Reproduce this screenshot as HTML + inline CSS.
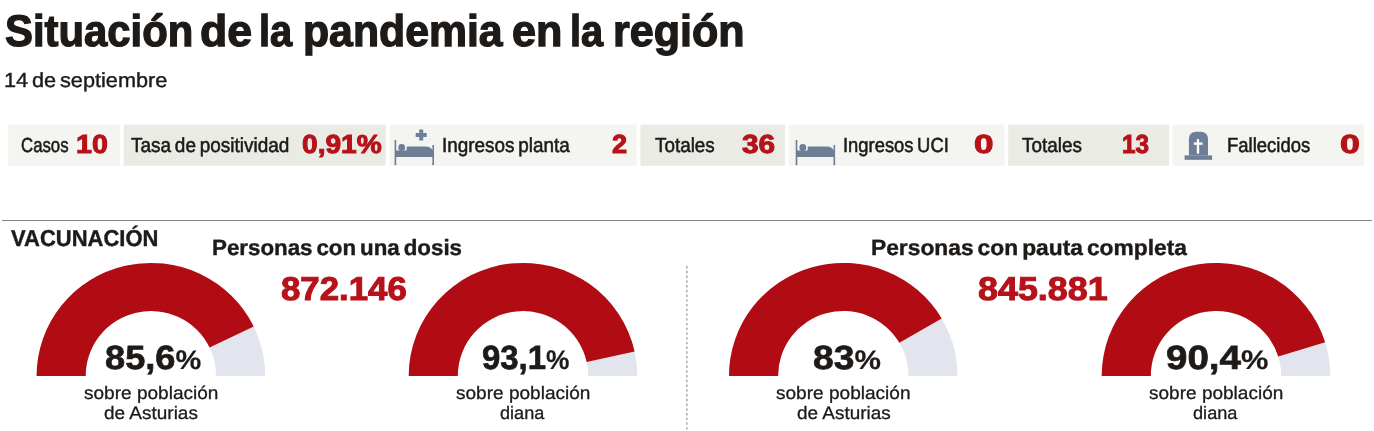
<!DOCTYPE html>
<html lang="es"><head><meta charset="utf-8"><title>Situación de la pandemia en la región</title>
<style>html,body{margin:0;padding:0;background:#fff}body{width:1374px;height:431px;position:relative;overflow:hidden;font-family:"Liberation Sans",sans-serif}
.t{position:absolute;white-space:nowrap;line-height:1;transform-origin:0 0;margin:0;text-rendering:geometricPrecision}
.b{position:absolute}
h1{margin:0;font:inherit}
svg{position:absolute;left:0;top:0}
</style></head><body>
<div class="b" style="left:2.3px;top:220px;width:1370px;height:1px;background:#858585"></div>
<svg width="1374" height="431" viewBox="0 0 1374 431">
<rect x="8.3" y="124.6" width="111.7" height="41.2" fill="#f4f4f0"/>
<rect x="123.7" y="124.6" width="262.0" height="41.2" fill="#ebebe5"/>
<rect x="389.8" y="124.6" width="246.9" height="41.2" fill="#f4f4f0"/>
<rect x="640.4" y="124.6" width="144.6" height="41.2" fill="#ebebe5"/>
<rect x="788.6" y="124.6" width="215.9" height="41.2" fill="#f4f4f0"/>
<rect x="1008.2" y="124.6" width="160.8" height="41.2" fill="#ebebe5"/>
<rect x="1172.5" y="124.6" width="191.8" height="41.2" fill="#f4f4f0"/>
<path fill="#e2e5ed" d="M36.60 375.90A114.3 113.0 0 0 1 265.20 375.90L216.10 375.90A65.2 64.9 0 0 0 85.70 375.90Z"/>
<path fill="#b10c14" d="M36.60 375.90A114.3 113.0 0 0 1 253.70 326.51L209.54 347.53A65.2 64.9 0 0 0 85.70 375.90Z"/>
<path fill="#e2e5ed" d="M408.70 375.90A114.3 113.0 0 0 1 637.30 375.90L588.20 375.90A65.2 64.9 0 0 0 457.80 375.90Z"/>
<path fill="#b10c14" d="M408.70 375.90A114.3 113.0 0 0 1 634.63 351.60L586.67 361.94A65.2 64.9 0 0 0 457.80 375.90Z"/>
<path fill="#e2e5ed" d="M729.00 375.90A114.3 113.0 0 0 1 957.60 375.90L908.50 375.90A65.2 64.9 0 0 0 778.10 375.90Z"/>
<path fill="#b10c14" d="M729.00 375.90A114.3 113.0 0 0 1 941.68 318.38L899.42 342.86A65.2 64.9 0 0 0 778.10 375.90Z"/>
<path fill="#e2e5ed" d="M1101.70 375.90A114.3 113.0 0 0 1 1330.30 375.90L1281.20 375.90A65.2 64.9 0 0 0 1150.80 375.90Z"/>
<path fill="#b10c14" d="M1101.70 375.90A114.3 113.0 0 0 1 1325.14 342.33L1278.26 356.62A65.2 64.9 0 0 0 1150.80 375.90Z"/>
<g id="bed1" fill="#6d7e96">
<rect x="394.6" y="140" width="1.6" height="24"/>
<rect x="432.4" y="145" width="1.6" height="19"/>
<circle cx="395.4" cy="164.2" r="1"/><circle cx="433.2" cy="164.2" r="1"/>
<rect x="395.4" y="150.4" width="37.8" height="6.6"/>
<circle cx="401.7" cy="147.5" r="3.4"/>
<path d="M406.6 151V147.6Q406.6 146.4 407.8 146.4H425.5Q431.6 146.6 433 151Z"/>
<path d="M419.2 129.4h4v3.5h3.5v4h-3.5v3.5h-4v-3.5h-3.5v-4h3.5z"/>
</g>
<g id="bed2" fill="#6d7e96" transform="translate(401.1 0)">
<rect x="394.6" y="140" width="1.6" height="24"/>
<rect x="432.4" y="145" width="1.6" height="19"/>
<circle cx="395.4" cy="164.2" r="1"/><circle cx="433.2" cy="164.2" r="1"/>
<rect x="395.4" y="150.4" width="37.8" height="6.6"/>
<circle cx="401.7" cy="147.5" r="3.4"/>
<path d="M406.6 151V147.6Q406.6 146.4 407.8 146.4H425.5Q431.6 146.6 433 151Z"/>
</g>
<g id="tomb">
<path fill="#6d7e96" d="M1188.9 155.6V139.3Q1188.9 131.8 1196.4 131.8H1200.5Q1208 131.8 1208 139.3V155.6Z"/>
<rect fill="#6d7e96" x="1184.6" y="155.4" width="27.5" height="4.4"/>
<rect fill="#fff" x="1196.8" y="139.1" width="2.4" height="14.6" rx="0.8"/>
<rect fill="#fff" x="1193.8" y="142.5" width="8.8" height="2.3"/>
</g>

<line x1="686.9" y1="266.04" x2="686.9" y2="431" stroke="#8a8a8a" stroke-width="1.1" stroke-dasharray="2.4 2.34"/>
</svg>
<h1>
<span class="t" id="t0" style="left:4.59px;top:9.55px;font-size:44.3px;font-weight:700;color:#1d1a18;-webkit-text-stroke:1.3px #1d1a18;transform:scaleX(0.9447);">Situación</span>
<span class="t" id="t1" style="left:200.42px;top:9.55px;font-size:44.3px;font-weight:700;color:#1d1a18;-webkit-text-stroke:1.3px #1d1a18;transform:scaleX(1.0070);">de</span>
<span class="t" id="t2" style="left:258.85px;top:9.55px;font-size:44.3px;font-weight:700;color:#1d1a18;-webkit-text-stroke:1.3px #1d1a18;transform:scaleX(0.8970);">la</span>
<span class="t" id="t3" style="left:302.64px;top:9.55px;font-size:44.3px;font-weight:700;color:#1d1a18;-webkit-text-stroke:1.3px #1d1a18;transform:scaleX(0.9652);">pandemia</span>
<span class="t" id="t4" style="left:512.00px;top:9.55px;font-size:44.3px;font-weight:700;color:#1d1a18;-webkit-text-stroke:1.3px #1d1a18;transform:scaleX(0.9735);">en</span>
<span class="t" id="t5" style="left:569.50px;top:9.55px;font-size:44.3px;font-weight:700;color:#1d1a18;-webkit-text-stroke:1.3px #1d1a18;transform:scaleX(0.8958);">la</span>
<span class="t" id="t6" style="left:612.54px;top:9.55px;font-size:44.3px;font-weight:700;color:#1d1a18;-webkit-text-stroke:1.3px #1d1a18;transform:scaleX(0.9730);">región</span>
</h1>
<div class="t" id="t7" style="left:4.15px;top:71.12px;font-size:20.3px;font-weight:400;color:#1d1a18;-webkit-text-stroke:0.4px #1d1a18;transform:scaleX(1.0701);word-spacing:-0.1em;">14 de septiembre</div>
<div class="t" id="t8" style="left:20.87px;top:135.92px;font-size:20.3px;font-weight:400;color:#1d1a18;-webkit-text-stroke:0.55px #1d1a18;transform:scaleX(0.8279);word-spacing:-0.08em;">Casos</div>
<div class="t" id="t9" style="left:76.12px;top:131.23px;font-size:26.0px;font-weight:700;color:#b6121a;-webkit-text-stroke:1.0px #b6121a;transform:scaleX(1.0988);">10</div>
<div class="t" id="t10" style="left:130.82px;top:135.92px;font-size:20.3px;font-weight:400;color:#1d1a18;-webkit-text-stroke:0.55px #1d1a18;transform:scaleX(0.9357);word-spacing:-0.08em;">Tasa de positividad</div>
<div class="t" id="t11" style="left:302.00px;top:131.23px;font-size:26.0px;font-weight:700;color:#b6121a;-webkit-text-stroke:1.0px #b6121a;transform:scaleX(1.0822);">0,91%</div>
<div class="t" id="t12" style="left:441.80px;top:135.92px;font-size:20.3px;font-weight:400;color:#1d1a18;-webkit-text-stroke:0.55px #1d1a18;transform:scaleX(0.9324);word-spacing:-0.08em;">Ingresos planta</div>
<div class="t" id="t13" style="left:612.00px;top:131.23px;font-size:26.0px;font-weight:700;color:#b6121a;-webkit-text-stroke:1.0px #b6121a;transform:scaleX(1.0429);">2</div>
<div class="t" id="t14" style="left:654.84px;top:135.92px;font-size:20.3px;font-weight:400;color:#1d1a18;-webkit-text-stroke:0.55px #1d1a18;transform:scaleX(0.9294);word-spacing:-0.08em;">Totales</div>
<div class="t" id="t15" style="left:741.83px;top:131.23px;font-size:26.0px;font-weight:700;color:#b6121a;-webkit-text-stroke:1.0px #b6121a;transform:scaleX(1.1463);">36</div>
<div class="t" id="t16" style="left:843.44px;top:135.92px;font-size:20.3px;font-weight:400;color:#1d1a18;-webkit-text-stroke:0.55px #1d1a18;transform:scaleX(0.9060);word-spacing:-0.08em;">Ingresos UCI</div>
<div class="t" id="t17" style="left:974.27px;top:131.23px;font-size:26.0px;font-weight:700;color:#b6121a;-webkit-text-stroke:1.0px #b6121a;transform:scaleX(1.3499);">0</div>
<div class="t" id="t18" style="left:1022.08px;top:135.92px;font-size:20.3px;font-weight:400;color:#1d1a18;-webkit-text-stroke:0.55px #1d1a18;transform:scaleX(0.9325);word-spacing:-0.08em;">Totales</div>
<div class="t" id="t19" style="left:1122.00px;top:131.23px;font-size:26.0px;font-weight:700;color:#b6121a;-webkit-text-stroke:1.0px #b6121a;transform:scaleX(0.9346);">13</div>
<div class="t" id="t20" style="left:1227.11px;top:135.92px;font-size:20.3px;font-weight:400;color:#1d1a18;-webkit-text-stroke:0.55px #1d1a18;transform:scaleX(0.9108);word-spacing:-0.08em;">Fallecidos</div>
<div class="t" id="t21" style="left:1339.78px;top:131.23px;font-size:26.0px;font-weight:700;color:#b6121a;-webkit-text-stroke:1.0px #b6121a;transform:scaleX(1.3774);">0</div>
<div class="t" id="t22" style="left:10.99px;top:226.65px;font-size:23.0px;font-weight:700;color:#1d1a18;-webkit-text-stroke:0.4px #1d1a18;transform:scaleX(0.9564);">VACUNACIÓN</div>
<div class="t" id="t23" style="left:212.00px;top:236.90px;font-size:22.0px;font-weight:700;color:#1d1a18;-webkit-text-stroke:0.4px #1d1a18;transform:scaleX(1.0143);word-spacing:-0.1em;">Personas con una dosis</div>
<div class="t" id="t24" style="left:281.00px;top:272.25px;font-size:33px;font-weight:700;color:#b6121a;-webkit-text-stroke:1.0px #b6121a;transform:scaleX(1.0542);">872.146</div>
<div class="t" id="t25" style="left:870.52px;top:236.90px;font-size:22.0px;font-weight:700;color:#1d1a18;-webkit-text-stroke:0.4px #1d1a18;transform:scaleX(1.0353);word-spacing:-0.1em;">Personas con pauta completa</div>
<div class="t" id="t26" style="left:977.75px;top:272.25px;font-size:33px;font-weight:700;color:#b6121a;-webkit-text-stroke:1.0px #b6121a;transform:scaleX(1.0868);">845.881</div>
<div class="t" id="t27" style="left:105.40px;top:342.01px;font-size:33.6px;font-weight:700;color:#1d1a18;-webkit-text-stroke:0.7px #1d1a18;transform:scaleX(1.0782);">85,6<span style="font-size:0.8em;-webkit-text-stroke:0.2px #1d1a18">%</span></div>
<div class="t" id="t28" style="left:482.37px;top:342.01px;font-size:33.6px;font-weight:700;color:#1d1a18;-webkit-text-stroke:0.7px #1d1a18;transform:scaleX(0.9806);">93,1<span style="font-size:0.8em;-webkit-text-stroke:0.2px #1d1a18">%</span></div>
<div class="t" id="t29" style="left:813.07px;top:342.01px;font-size:33.6px;font-weight:700;color:#1d1a18;-webkit-text-stroke:0.7px #1d1a18;transform:scaleX(1.1075);">83<span style="font-size:0.8em;-webkit-text-stroke:0.2px #1d1a18">%</span></div>
<div class="t" id="t30" style="left:1165.91px;top:342.01px;font-size:33.6px;font-weight:700;color:#1d1a18;-webkit-text-stroke:0.7px #1d1a18;transform:scaleX(1.1475);">90,4<span style="font-size:0.8em;-webkit-text-stroke:0.2px #1d1a18">%</span></div>
<div class="t" id="t31" style="left:84.16px;top:383.70px;font-size:18.0px;font-weight:400;color:#1d1a18;-webkit-text-stroke:0.3px #1d1a18;transform:scaleX(1.0575);">sobre población</div>
<div class="t" id="t32" style="left:104.02px;top:403.70px;font-size:18.0px;font-weight:400;color:#1d1a18;-webkit-text-stroke:0.3px #1d1a18;transform:scaleX(1.0544);">de Asturias</div>
<div class="t" id="t33" style="left:456.16px;top:383.70px;font-size:18.0px;font-weight:400;color:#1d1a18;-webkit-text-stroke:0.3px #1d1a18;transform:scaleX(1.0575);">sobre población</div>
<div class="t" id="t34" style="left:500.40px;top:403.70px;font-size:18.0px;font-weight:400;color:#1d1a18;-webkit-text-stroke:0.3px #1d1a18;transform:scaleX(1.0054);">diana</div>
<div class="t" id="t35" style="left:776.42px;top:383.70px;font-size:18.0px;font-weight:400;color:#1d1a18;-webkit-text-stroke:0.3px #1d1a18;transform:scaleX(1.0583);">sobre población</div>
<div class="t" id="t36" style="left:796.51px;top:403.70px;font-size:18.0px;font-weight:400;color:#1d1a18;-webkit-text-stroke:0.3px #1d1a18;transform:scaleX(1.0521);">de Asturias</div>
<div class="t" id="t37" style="left:1148.76px;top:383.70px;font-size:18.0px;font-weight:400;color:#1d1a18;-webkit-text-stroke:0.3px #1d1a18;transform:scaleX(1.0570);">sobre población</div>
<div class="t" id="t38" style="left:1193.03px;top:403.70px;font-size:18.0px;font-weight:400;color:#1d1a18;-webkit-text-stroke:0.3px #1d1a18;transform:scaleX(1.0087);">diana</div>
</body></html>
